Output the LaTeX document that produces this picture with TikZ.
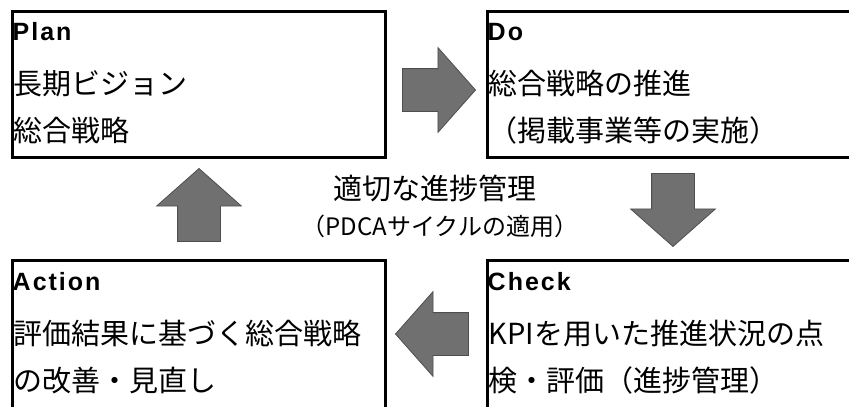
\documentclass[tikz,border=0pt]{standalone}
\usepackage{fontspec}
\setmainfont{Noto Sans CJK JP}
\newfontfamily\headfont[LetterSpace=8]{Liberation Sans}
\usetikzlibrary{shapes.arrows}
\definecolor{arrowfill}{RGB}{112,112,112}
\definecolor{arrowedge}{RGB}{78,78,78}
\tikzset{pdcabox/.style = {draw, line width = 3pt, inner sep = 0, anchor = north west}}
\tikzset{headline/.style = {anchor = base west, inner sep = 0, font = \headfont\bfseries\fontsize{25}{25}\selectfont}}
\tikzset{bodyline/.style = {anchor = base west, inner sep = 0, font = \fontsize{29}{29}\selectfont}}
\tikzset{pdcaarrow/.style = {single arrow, anchor = tip, fill = arrowfill, draw = arrowedge, line width = 0.8pt,
    inner xsep = 0, inner ysep = 21pt, single arrow head extend = 21pt, single arrow tip angle = 97,
    minimum height = 73pt}}

\begin{document}
\begin{tikzpicture}[x = 1pt, y = -1pt]
  \useasboundingbox (0, 0) rectangle (849, 407);
  \clip (0, 0) rectangle (849, 407);

  % the four boxes, the right and bottom ones run off the page
  \node [pdcabox, minimum width = 373pt, minimum height = 146.5pt] (plan) at (11, 9.5) {};
  \node [pdcabox, minimum width = 380pt, minimum height = 146.5pt] (do) at (486, 9.5) {};
  \node [pdcabox, minimum width = 373pt, minimum height = 170pt] (action) at (11, 259) {};
  \node [pdcabox, minimum width = 380pt, minimum height = 170pt] (check) at (486, 259) {};

  \node [headline] (plan-head) at (12.5, 40.5) {Plan};
  \node [bodyline] (plan-a) at (13.5, 94.5) {長期ビジョン};
  \node [bodyline] (plan-b) at (13.5, 141.5) {総合戦略};

  \node [headline] (do-head) at (487.5, 40.5) {Do};
  \node [bodyline] (do-a) at (488.5, 94.5) {総合戦略の推進};
  \node [bodyline] (do-b) at (488.5, 141.5) {（掲載事業等の実施）};

  \node [headline] (action-head) at (12.5, 290) {Action};
  \node [bodyline] (action-a) at (13.5, 344) {評価結果に基づく総合戦略};
  \node [bodyline] (action-b) at (13.5, 391) {の改善・見直し};

  \node [headline] (check-head) at (487.5, 290) {Check};
  \node [bodyline] (check-a) at (488.5, 344) {KPIを用いた推進状況の点};
  \node [bodyline] (check-b) at (488.5, 391) {検・評価（進捗管理）};

  % cycle arrows
  \node [pdcaarrow] (plan-do) at (476, 90) {};
  \node [pdcaarrow, rotate = -90] (do-check) at (673, 247) {};
  \node [pdcaarrow, rotate = 180] (check-action) at (395, 334) {};
  \node [pdcaarrow, rotate = 90] (action-plan) at (199, 168) {};

  \node [font = \fontsize{29}{29}\selectfont] (cycle) at (435, 188) {適切な進捗管理};
  \node [font = \fontsize{24}{24}\selectfont] (cycle-note) at (440, 226) {（PDCAサイクルの適用）};
\end{tikzpicture}
\end{document}
